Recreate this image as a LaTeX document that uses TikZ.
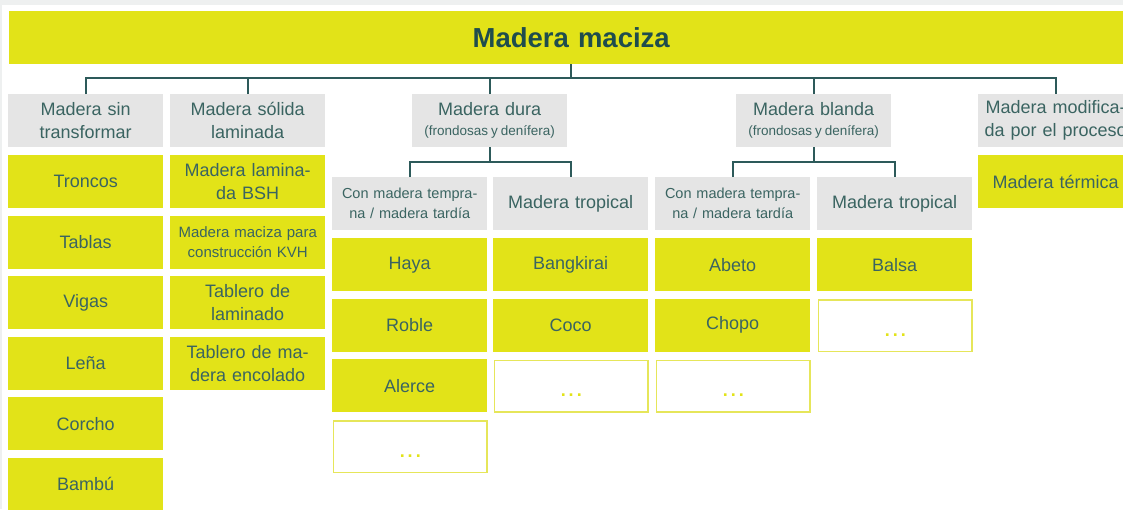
\documentclass[tikz,border=0pt]{standalone}
\usepackage{fontspec}
\setmainfont{Liberation Sans}
\definecolor{ymain}{HTML}{E2E318}
\definecolor{yline}{HTML}{E6E65A}
\definecolor{gbg}{HTML}{E5E5E5}
\definecolor{tcol}{HTML}{3A6461}
\definecolor{ttl}{HTML}{1F4D4D}
\definecolor{lcol}{HTML}{2D5A5A}
\definecolor{pagebg}{HTML}{EEF0F0}
\tikzset{
  basebox/.style={inner sep=0pt, anchor=north west, minimum width=155pt, minimum height=53pt,
    text width=150pt, align=center, text=tcol, font=\fontsize{18}{23}\selectfont},
  ybox/.style={basebox, fill=ymain},
  gbox/.style={basebox, fill=gbg},
  ebox/.style={basebox, fill=white, draw=yline, line width=1.5pt, text=ymain,
    minimum width=153.5pt, minimum height=51.5pt, xshift=0.75pt, yshift=-0.75pt,
    font=\fontsize{18}{18}\selectfont\bfseries, text height=21pt, text depth=0pt},
  conn/.style={draw=lcol, line width=1.6pt},
  smallf/.style={font=\fontsize{15}{20}\selectfont},
  tinyf/.style={font=\fontsize{14.5}{20}\selectfont}
}
\newcommand{\dotsx}{.\hspace{3pt}.\hspace{3pt}.}
\newcommand{\subline}{{\fontsize{13.5}{16}\selectfont\spaceskip=0.22em\relax(frondosas y denífera)}}
\begin{document}
\begin{tikzpicture}[x=1pt,y=-1pt]
\useasboundingbox (0,0) rectangle (1123,509);
\fill[pagebg] (0,0) rectangle (1123,509);
\fill[white] (2,5) rectangle (1123,509);
\begin{scope}
\clip (0,0) rectangle (1123,509);
% title
\node[basebox, fill=ymain, minimum width=1124pt, text width=1000pt, text=ttl,
  font=\fontsize{27.5}{30}\selectfont\bfseries] (title) at (9,11) {Madera maciza};
% level 1
\node[gbox] (b1) at (8,94) {Madera sin\\transformar};
\node[gbox] (b2) at (170,94) {Madera sólida\\laminada};
\node[gbox] (b3) at (412,94) {Madera dura\\[-3pt]\subline};
\node[gbox] (b4) at (736,94) {Madera blanda\\[-3pt]\subline};
\node[gbox] (b5) at (978,94) {Madera modifica-\\da por el proceso};
% column 1
\node[ybox] (l11) at (8,155) {Troncos};
\node[ybox] (l12) at (8,215.5) {Tablas};
\node[ybox] (l13) at (8,276) {Vigas};
\node[ybox] (l14) at (8,336.5) {Leña};
\node[ybox] (l15) at (8,397) {Corcho};
\node[ybox] (l16) at (8,457.5) {Bambú};
% column 2
\node[ybox] (l21) at (170,155) {Madera lamina-\\da BSH};
\node[ybox, smallf] (l22) at (170,215.5) {Madera maciza para\\construcción KVH};
\node[ybox] (l23) at (170,276) {Tablero de\\laminado};
\node[ybox] (l24) at (170,336.5) {Tablero de ma-\\dera encolado};
% column 7
\node[ybox] (l71) at (978,155) {Madera térmica};
% level 2
\node[gbox, tinyf] (s1) at (332,177) {Con madera tempra-\\na / madera tardía};
\node[gbox] (s2) at (493,177) {Madera tropical};
\node[gbox, tinyf] (s3) at (655,177) {Con madera tempra-\\na / madera tardía};
\node[gbox] (s4) at (817,177) {Madera tropical};
% leaves dura
\node[ybox] (h1) at (332,238) {Haya};
\node[ybox] (h2) at (332,298.5) {Roble};
\node[ybox] (h3) at (332,359) {Alerce};
\node[ebox] (h4) at (332,419.5) {\dotsx};
\node[ybox] (t1) at (493,238) {Bangkirai};
\node[ybox] (t2) at (493,298.5) {Coco};
\node[ebox] (t3) at (493,359) {\dotsx};
% leaves blanda
\node[ybox] (a1) at (655,238) {Abeto};
\node[ybox] (a2) at (655,298.5) {Chopo};
\node[ebox] (a3) at (655,359) {\dotsx};
\node[ybox] (u1) at (817,238) {Balsa};
\node[ebox] (u2) at (817,298.5) {\dotsx};
% connectors
\coordinate (bus) at (0,78);
\coordinate (busd) at (0,162);
\draw[conn] (title.south) -- (title.south |- bus);
\draw[conn] (b1.north) -- (b1.north |- bus) -- (b5.north |- bus) -- (b5.north);
\draw[conn] (b2.north) -- (b2.north |- bus);
\draw[conn] (b3.north) -- (b3.north |- bus);
\draw[conn] (b4.north) -- (b4.north |- bus);
\draw[conn] (b3.south) -- (b3.south |- busd);
\draw[conn] (s1.north) -- (s1.north |- busd) -- (s2.north |- busd) -- (s2.north);
\draw[conn] (b4.south) -- (b4.south |- busd);
\draw[conn] (s3.north) -- (s3.north |- busd) -- (s4.north |- busd) -- (s4.north);
\end{scope}
\end{tikzpicture}
\end{document}
